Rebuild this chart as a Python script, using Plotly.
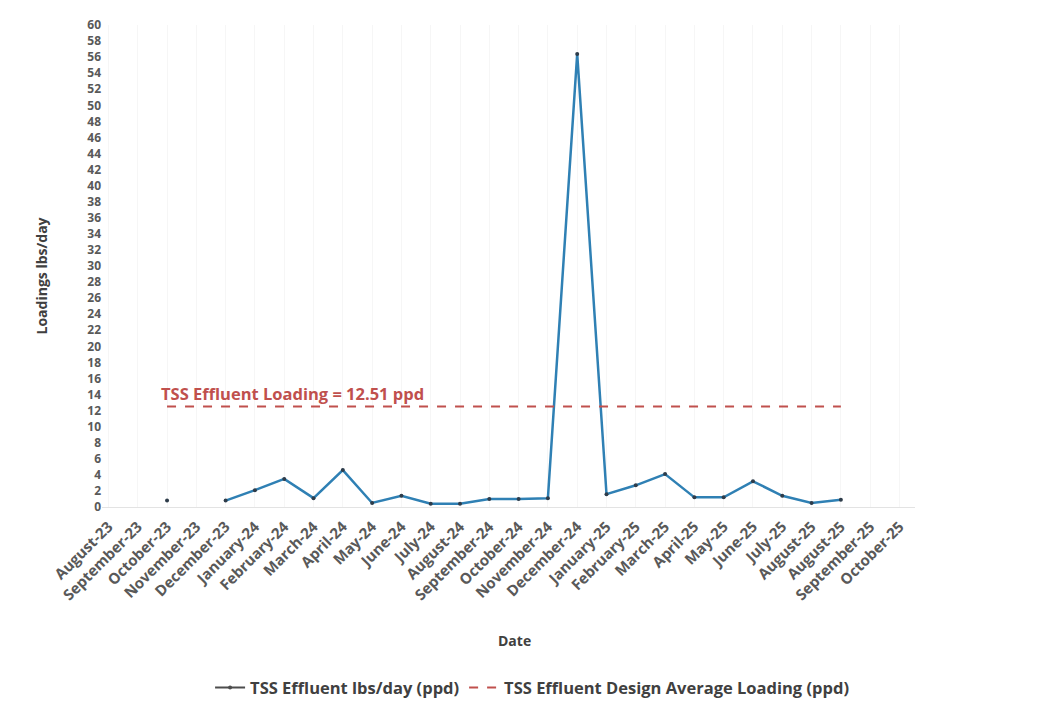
import plotly.graph_objects as go

# Monthly reporting periods (August-25 appears twice in the source table)
months = [
    "August-23", "September-23", "October-23", "November-23", "December-23",
    "January-24", "February-24", "March-24", "April-24", "May-24", "June-24",
    "July-24", "August-24", "September-24", "October-24", "November-24",
    "December-24", "January-25", "February-25", "March-25", "April-25",
    "May-25", "June-25", "July-25", "August-25", "August-25",
    "September-25", "October-25",
]

# TSS effluent loading, lbs/day (None = no sample reported)
tss_effluent = [
    None, None, 0.8, None, 0.8,
    2.1, 3.5, 1.1, 4.6, 0.5, 1.4,
    0.4, 0.4, 1.0, 1.0, 1.1,
    56.4, 1.6, 2.7, 4.1, 1.2,
    1.2, 3.2, 1.4, 0.5, 0.9,
    None, None,
]

# Design average loading, drawn over the reported months
design_loading = 12.51
design_first, design_last = 2, 25
design_series = [design_loading if design_first <= i <= design_last else None
                 for i in range(len(months))]

y_ticks = list(range(0, 61, 2))

FONT = "'Open Sans', Lato, sans-serif"
TEXT_GREY = "#595959"
TITLE_GREY = "#404040"
LINE_BLUE = "#2F80B4"
DESIGN_RED = "#C0504D"

x_idx = list(range(len(months)))

fig = go.Figure()

fig.add_trace(go.Scatter(
    x=x_idx, y=tss_effluent,
    mode="lines+markers",
    line=dict(color=LINE_BLUE, width=2.5),
    marker=dict(size=4, color="#2E3C4A"),
    connectgaps=False,
    showlegend=False,
    hoverinfo="skip",
))

fig.add_trace(go.Scatter(
    x=x_idx, y=design_series,
    mode="lines",
    line=dict(color=DESIGN_RED, width=2.2, dash="dash"),
    showlegend=False,
    hoverinfo="skip",
))

# Legend entries
fig.add_trace(go.Scatter(
    x=[None], y=[None], mode="lines+markers",
    name="TSS Effluent lbs/day (ppd)",
    line=dict(color="#4D4D4D", width=2),
    marker=dict(size=4, color="#4D4D4D"),
))
fig.add_trace(go.Scatter(
    x=[None], y=[None], mode="lines",
    name="TSS Effluent Design Average Loading (ppd)",
    line=dict(color=DESIGN_RED, width=2, dash="dash"),
))

fig.add_annotation(
    x=1.72, y=design_loading, xref="x", yref="y",
    xanchor="left", yanchor="bottom", yshift=0,
    text="TSS Effluent Loading = 12.51 ppd",
    showarrow=False,
    font=dict(family=FONT, size=16.5, color=DESIGN_RED, weight="bold"),
)

fig.add_annotation(
    x=0.507, y=-0.276, xref="paper", yref="paper",
    xanchor="center", yanchor="middle",
    text="Date", showarrow=False,
    font=dict(family=FONT, size=14, color=TITLE_GREY, weight="bold"),
)
fig.add_annotation(
    x=-0.074, y=0.48, xref="paper", yref="paper",
    xanchor="center", yanchor="middle",
    text="Loadings lbs/day", showarrow=False, textangle=-90,
    font=dict(family=FONT, size=14, color=TITLE_GREY, weight="bold"),
)

fig.update_layout(
    width=1045, height=719,
    margin=dict(l=102, r=130, t=25, b=212),
    paper_bgcolor="white", plot_bgcolor="white",
    font=dict(family=FONT, color=TEXT_GREY),
    legend=dict(
        orientation="h", x=0.529, xanchor="center", y=-0.375, yanchor="middle",
        font=dict(family=FONT, size=16.5, color=TITLE_GREY, weight="bold"),
        itemwidth=30, tracegroupgap=0,
    ),
    xaxis=dict(
        tickmode="array", tickvals=x_idx, ticktext=months,
        range=[-0.22, 27.53], tickangle=-45,
        showline=True, linecolor="#E3E3E3", linewidth=1,
        showgrid=True, gridcolor="#F6F6F6",
        zeroline=False, ticks="", ticklabelstandoff=4,
        tickfont=dict(family=FONT, size=15, color=TEXT_GREY, weight="bold"),
    ),
    yaxis=dict(
        range=[0, 60], tickmode="array", tickvals=y_ticks,
        showgrid=False, zeroline=False, showline=False, ticks="",
        tickfont=dict(family=FONT, size=12, color=TEXT_GREY, weight="bold"),
    ),
)

fig.write_html("out.html")
